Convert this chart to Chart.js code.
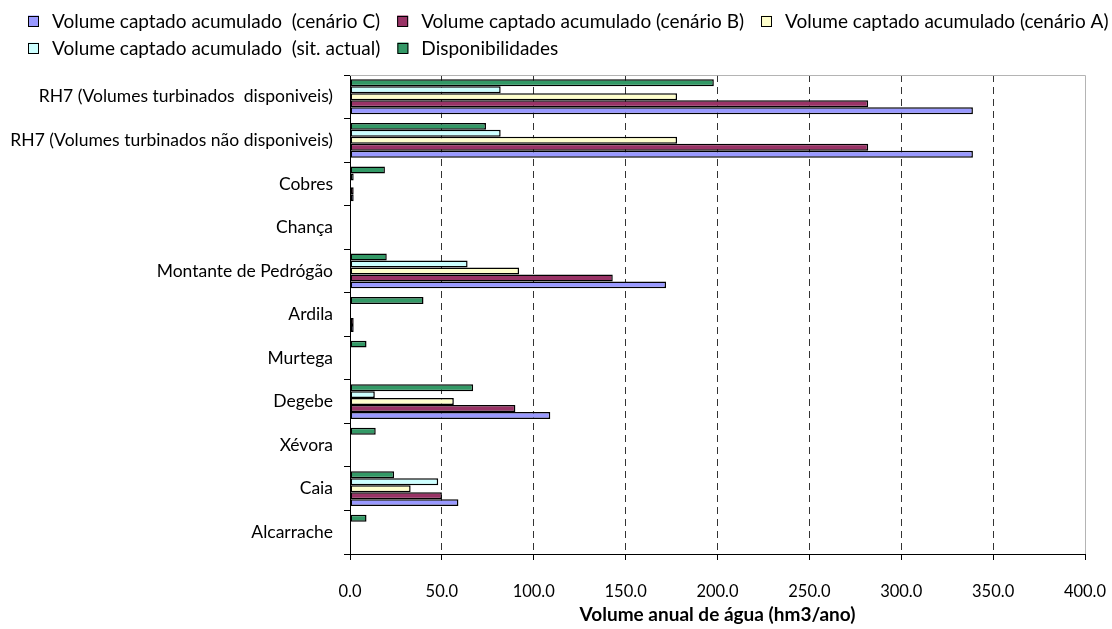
<!DOCTYPE html>
<html>
<head>
<meta charset="utf-8">
<script src="https://cdn.jsdelivr.net/npm/chart.js@4.4.0/dist/chart.umd.min.js"></script>
<style>
  html, body { margin: 0; padding: 0; background: #fff; }
  #wrap { width: 1112px; height: 629px; }
</style>
</head>
<body>
<div id="wrap"><canvas id="chart" width="1112" height="629"></canvas></div>
<script>
// Water basins / sub-basins (top to bottom)
const categories = [
  'RH7 (Volumes turbinados  disponiveis)',
  'RH7 (Volumes turbinados não disponiveis)',
  'Cobres',
  'Chança',
  'Montante de Pedrógão',
  'Ardila',
  'Murtega',
  'Degebe',
  'Xévora',
  'Caia',
  'Alcarrache'
];

// Annual volumes, hm3/ano (null = no bar)
const disponibilidades = [198, 74, 19, null, 20, 40, 9, 67, 14, 24, 9];
const sitActual        = [82, 82, 2, null, 64, null, null, 13.5, null, 48, null];
const cenarioA         = [178, 178, null, null, 92, null, null, 56.5, null, 33, null];
const cenarioB         = [282, 282, 2, null, 143, 2, null, 90, null, 50, null];
const cenarioC         = [339, 339, 2, null, 172, 2, null, 109, null, 59, null];

const xTicks = { min: 0, max: 400, step: 50 };

const FONT = 'Lato, "Open Sans", sans-serif';

// light frame on top and right of the plot area
const plotFrame = {
  id: 'plotFrame',
  beforeDatasetsDraw(chart) {
    const { ctx, chartArea: a } = chart;
    ctx.save();
    ctx.strokeStyle = '#b4b4b4';
    ctx.lineWidth = 1;
    ctx.beginPath();
    ctx.moveTo(a.left, Math.round(a.top) + 0.5);
    ctx.lineTo(Math.round(a.right) + 0.5, Math.round(a.top) + 0.5);
    ctx.lineTo(Math.round(a.right) + 0.5, a.bottom);
    ctx.stroke();
    ctx.restore();
  }
};

// legend: series in reverse dataset order, wrapped into rows above the plot
const seriesLegend = {
  id: 'seriesLegend',
  afterDraw(chart, args, opts) {
    const { ctx } = chart;
    const ds = chart.data.datasets;
    ctx.save();
    ctx.font = `${opts.fontSize}px ${FONT}`;
    ctx.textBaseline = 'middle';
    ctx.textAlign = 'left';
    let x = opts.left, row = 0;
    for (let i = ds.length - 1; i >= 0; i--) {
      const w = opts.box + opts.boxGap + ctx.measureText(ds[i].label).width;
      if (x > opts.left && x + w > opts.right) { x = opts.left; row++; }
      const y = opts.top + row * opts.rowHeight;
      ctx.fillStyle = ds[i].backgroundColor;
      ctx.fillRect(x, y - opts.box / 2, opts.box, opts.box);
      ctx.strokeStyle = '#000';
      ctx.lineWidth = 1;
      ctx.strokeRect(x + 0.5, Math.round(y - opts.box / 2) + 0.5, opts.box - 1, opts.box - 1);
      ctx.fillStyle = '#000';
      ctx.fillText(ds[i].label, x + opts.box + opts.boxGap, y + 1);
      x += w + opts.itemGap;
    }
    ctx.restore();
  }
};

new Chart(document.getElementById('chart'), {
  type: 'bar',
  data: {
    labels: categories,
    datasets: [
      { label: 'Disponibilidades', data: disponibilidades, backgroundColor: '#339966' },
      { label: 'Volume captado acumulado  (sit. actual)', data: sitActual, backgroundColor: '#CCFFFF' },
      { label: 'Volume captado acumulado (cenário A)', data: cenarioA, backgroundColor: '#FFFFCC' },
      { label: 'Volume captado acumulado (cenário B)', data: cenarioB, backgroundColor: '#993366' },
      { label: 'Volume captado acumulado  (cenário C)', data: cenarioC, backgroundColor: '#9999FF' }
    ]
  },
  options: {
    indexAxis: 'y',
    responsive: false,
    animation: false,
    devicePixelRatio: 1,
    layout: { padding: { top: 75, right: 27, left: 0, bottom: 0 } },
    datasets: {
      bar: {
        categoryPercentage: 0.8,
        barPercentage: 1.0,
        borderColor: '#000',
        borderWidth: 1.5,
        borderSkipped: false
      }
    },
    plugins: {
      tooltip: { enabled: false },
      legend: { display: false },
      seriesLegend: {
        left: 28, right: 1110, top: 21, rowHeight: 27,
        box: 11, boxGap: 13, itemGap: 17, fontSize: 19
      }
    },
    scales: {
      x: {
        min: xTicks.min,
        max: xTicks.max,
        ticks: {
          stepSize: xTicks.step,
          color: '#000',
          font: { family: FONT, size: 16.5 },
          padding: 22,
          callback: v => Number(v).toFixed(1)
        },
        grid: {
          color: c => (c.tick && (c.tick.value === xTicks.min || c.tick.value === xTicks.max)) ? 'rgba(0,0,0,0)' : '#333',
          tickColor: '#000',
          tickLength: 6,
          lineWidth: 1
        },
        border: { display: true, color: '#000', width: 1, dash: [7, 5] },
        title: {
          display: true,
          text: 'Volume anual de água (hm3/ano)',
          color: '#000',
          font: { family: FONT, size: 19, weight: 'bold' },
          padding: { top: 2, bottom: 3 }
        },
        afterFit: s => { s.height = 75; s.paddingLeft = 0; s.paddingRight = 0; }
      },
      y: {
        grid: { drawOnChartArea: false, color: '#000', tickLength: 6 },
        border: { display: true, color: '#000', width: 1 },
        ticks: {
          color: '#000',
          font: { family: FONT, size: 17.5 },
          padding: 11,
          autoSkip: false
        },
        afterFit: s => { s.width = 350; }
      }
    }
  },
  plugins: [plotFrame, seriesLegend]
});
</script>
</body>
</html>
